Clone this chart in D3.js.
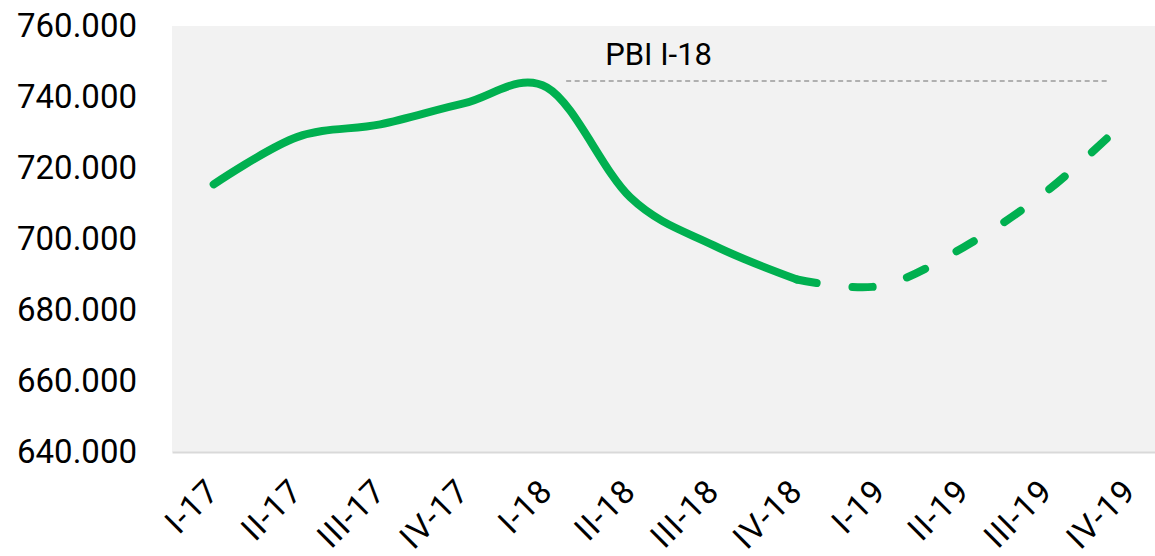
<!DOCTYPE html>
<html>
<head>
<meta charset="utf-8">
<script src="https://cdn.jsdelivr.net/npm/d3@7"></script>
<style>
  body { margin: 0; background: #fff; }
  svg { display: block; font-family: Roboto, "Noto Sans", sans-serif; }
</style>
</head>
<body>
<svg id="chart" width="1155" height="556"></svg>
<script>
// quarters on the category axis
const quarters = ['I-17', 'II-17', 'III-17', 'IV-17', 'I-18', 'II-18', 'III-18', 'IV-18', 'I-19', 'II-19', 'III-19', 'IV-19'];
// observed GDP (solid line)
const actual = [715400, 728700, 732300, 738200, 742700, 711700, 698200, 688600, null, null, null, null];
// projection (dashed line), starts at the last observed quarter
const projection = [null, null, null, null, null, null, null, 688600, 686800, 697700, 713500, 734500];
const yTicks = [640000, 660000, 680000, 700000, 720000, 740000, 760000];
// reference line "PBI I-18"
const refLabel = 'PBI I-18';
const refValue = 744500;
const refSpan = [4.23, 10.74]; // in category index units

const MARGINS = { top: 26, bottom: 104, left: 172, right: -17 };
const svg = d3.select('#chart');
const width = +svg.attr('width');
const height = +svg.attr('height');
const plotW = width - MARGINS.left - MARGINS.right;
const plotH = height - MARGINS.top - MARGINS.bottom;

const esLocale = d3.formatLocale({ decimal: ',', thousands: '.', grouping: [3], currency: ['', ' €'] });
const fmt = esLocale.format(',.0f');

const x = d3.scalePoint()
  .domain(quarters)
  .range([MARGINS.left, MARGINS.left + plotW])
  .padding(0.5);
const xi = d3.scaleLinear()
  .domain([0, quarters.length - 1])
  .range([x(quarters[0]), x(quarters[quarters.length - 1])]);
const y = d3.scaleLinear()
  .domain([640000, 760000])
  .range([MARGINS.top + plotH, MARGINS.top]);

// plot background
svg.append('rect')
  .attr('x', MARGINS.left)
  .attr('y', MARGINS.top)
  .attr('width', plotW)
  .attr('height', plotH)
  .attr('fill', '#f2f2f2');

// y axis labels only
const axisY = svg.append('g')
  .attr('transform', `translate(${MARGINS.left}, 0)`)
  .call(d3.axisLeft(y).tickValues(yTicks).tickFormat(fmt).tickSize(0).tickPadding(35));
axisY.select('.domain').remove();
axisY.selectAll('text')
  .attr('font-size', 33)
  .attr('font-family', 'Roboto, sans-serif')
  .attr('fill', '#000');

// x axis
const axisX = svg.append('g')
  .attr('transform', `translate(0, ${MARGINS.top + plotH})`)
  .call(d3.axisBottom(x).tickSize(0).tickPadding(0));
axisX.select('.domain')
  .attr('stroke', '#d9d9d9')
  .attr('stroke-width', 2);
axisX.selectAll('text')
  .attr('font-size', 33)
  .attr('font-family', 'Roboto, sans-serif')
  .attr('letter-spacing', 1.2)
  .attr('fill', '#000')
  .attr('text-anchor', 'end')
  .attr('dy', 0)
  .attr('transform', 'translate(7, 41) rotate(-45)');

// reference line + label
svg.append('line')
  .attr('x1', xi(refSpan[0]))
  .attr('x2', xi(refSpan[1]))
  .attr('y1', y(refValue))
  .attr('y2', y(refValue))
  .attr('stroke', '#9a9a9a')
  .attr('stroke-width', 1.5)
  .attr('stroke-dasharray', '5,3.5');
svg.append('text')
  .attr('x', xi(refSpan[0]) + 39)
  .attr('y', y(refValue) - 16)
  .attr('font-size', 31)
  .attr('fill', '#000')
  .text(refLabel);

const line = d3.line()
  .defined(d => d != null)
  .x((d, i) => x(quarters[i]))
  .y(d => y(d))
  .curve(d3.curveCardinal.tension(0));

svg.append('path')
  .datum(actual)
  .attr('d', line)
  .attr('fill', 'none')
  .attr('stroke', '#00b050')
  .attr('stroke-width', 8)
  .attr('stroke-linecap', 'round')
  .attr('stroke-linejoin', 'round');

svg.append('path')
  .datum(projection)
  .attr('d', line)
  .attr('fill', 'none')
  .attr('stroke', '#00b050')
  .attr('stroke-width', 8)
  .attr('stroke-linecap', 'round')
  .attr('stroke-dasharray', '20,36');
</script>
</body>
</html>
